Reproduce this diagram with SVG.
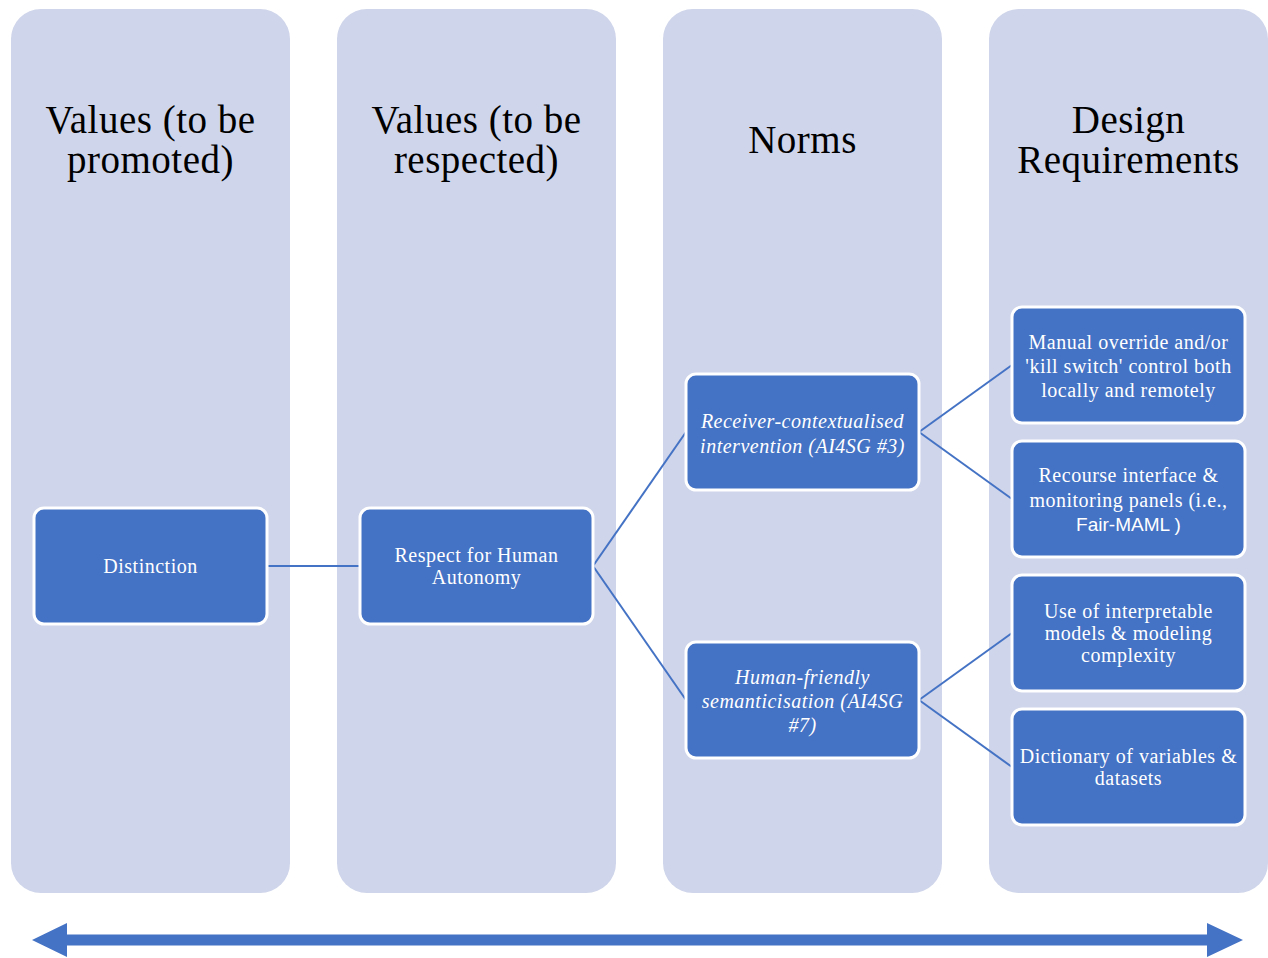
<svg xmlns="http://www.w3.org/2000/svg" width="1268" height="958" viewBox="0 0 1268 958">
<style>
.col{fill:#CFD5EA}
.box{fill:#4472C4;stroke:#FFFFFF;stroke-width:3}
.title{font-family:"Liberation Serif","Times New Roman",serif;font-size:39px;letter-spacing:0.5px;fill:#000;text-anchor:middle}
.t{font-family:"Liberation Serif","Times New Roman",serif;font-size:20px;letter-spacing:0.5px;fill:#FFF;text-anchor:middle}
.i{font-style:italic}
.s{font-family:"Liberation Sans",Arial,sans-serif;font-size:19px;letter-spacing:0}
.con{stroke:#4472C4;stroke-width:2;fill:none}
</style>
<rect width="1268" height="958" fill="#FFFFFF"/>
<g id="columns">
<rect class="col" x="11" y="9" width="279" height="884" rx="30"/>
<rect class="col" x="337" y="9" width="279" height="884" rx="30"/>
<rect class="col" x="663" y="9" width="279" height="884" rx="30"/>
<rect class="col" x="989" y="9" width="279" height="884" rx="30"/>
<text class="title" x="150.5" y="133">Values (to be</text>
<text class="title" x="150.5" y="173">promoted)</text>
<text class="title" x="476.5" y="133">Values (to be</text>
<text class="title" x="476.5" y="173">respected)</text>
<text class="title" x="802.5" y="153">Norms</text>
<text class="title" x="1128.5" y="133">Design</text>
<text class="title" x="1128.5" y="173">Requirements</text>
</g>
<g id="connectors">
<line class="con" x1="267" y1="566" x2="360" y2="566"/>
<line class="con" x1="593" y1="566" x2="686" y2="432"/>
<line class="con" x1="593" y1="566" x2="686" y2="700"/>
<line class="con" x1="919" y1="432" x2="1012" y2="365"/>
<line class="con" x1="919" y1="432" x2="1012" y2="499"/>
<line class="con" x1="919" y1="700" x2="1012" y2="633"/>
<line class="con" x1="919" y1="700" x2="1012" y2="767"/>
</g>
<g id="n-distinction">
<rect class="box" x="34" y="508" width="233" height="116" rx="10"/>
<text class="t" x="150.5" y="573">Distinction</text>
</g>
<g id="n-respect">
<rect class="box" x="360" y="508" width="233" height="116" rx="10"/>
<text class="t" x="476.5" y="562">Respect for Human</text>
<text class="t" x="476.5" y="584">Autonomy</text>
</g>
<g id="n-receiver">
<rect class="box" x="686" y="374" width="233" height="116" rx="10"/>
<text class="t i" x="802.5" y="428">Receiver-contextualised</text>
<text class="t i" x="802.5" y="453">intervention (AI4SG #3)</text>
</g>
<g id="n-human">
<rect class="box" x="686" y="642" width="233" height="116" rx="10"/>
<text class="t i" x="802.5" y="684">Human-friendly</text>
<text class="t i" x="802.5" y="708">semanticisation (AI4SG</text>
<text class="t i" x="802.5" y="732">#7)</text>
</g>
<g id="n-manual">
<rect class="box" x="1012" y="307" width="233" height="116" rx="10"/>
<text class="t" x="1128.5" y="349">Manual override and/or</text>
<text class="t" x="1128.5" y="373">'kill switch' control both</text>
<text class="t" x="1128.5" y="397">locally and remotely</text>
</g>
<g id="n-recourse">
<rect class="box" x="1012" y="441" width="233" height="116" rx="10"/>
<text class="t" x="1128.5" y="482">Recourse interface &amp;</text>
<text class="t" x="1128.5" y="507">monitoring panels (i.e.,</text>
<text class="t s" x="1128.5" y="531">Fair-MAML )</text>
</g>
<g id="n-interpretable">
<rect class="box" x="1012" y="575" width="233" height="116" rx="10"/>
<text class="t" x="1128.5" y="618">Use of interpretable</text>
<text class="t" x="1128.5" y="640">models &amp; modeling</text>
<text class="t" x="1128.5" y="662">complexity</text>
</g>
<g id="n-dictionary">
<rect class="box" x="1012" y="709" width="233" height="116" rx="10"/>
<text class="t" x="1128.5" y="763">Dictionary of variables &amp;</text>
<text class="t" x="1128.5" y="785">datasets</text>
</g>
<g id="arrow">
<polygon fill="#4472C4" points="32,940 67,923 67,934.5 1207,934.5 1207,923 1243,940 1207,957 1207,945.5 67,945.5 67,957"/>
</g>
</svg>
